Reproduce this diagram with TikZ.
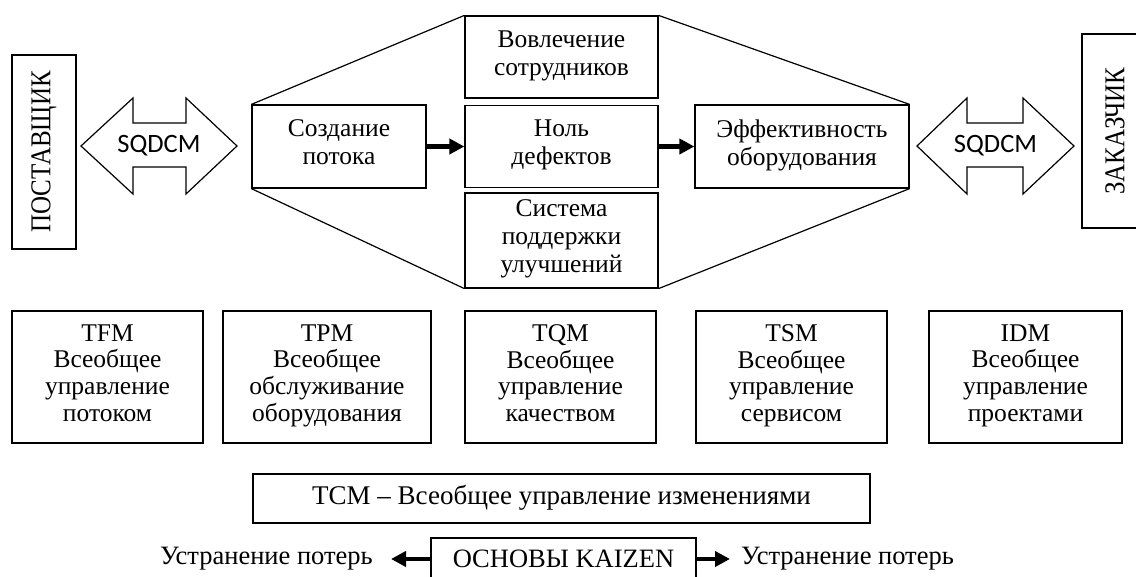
\documentclass[tikz,border=0pt]{standalone}
\usepackage{fontspec}
\usepackage{graphicx}
\setmainfont{Liberation Serif}
\newfontfamily\vtfont{Liberation Serif}
\newfontfamily\sqfont{Carlito}
\usetikzlibrary{arrows.meta}
\tikzset{
  box/.style={draw, line width=1.2pt, inner sep=0pt, align=center,
    font=\fontsize{25.5}{28}\selectfont,
    execute at begin node=\strut, execute at end node=\strut},
  lowbox/.style={box, minimum height=132pt, font=\fontsize{25.5}{26.7}\selectfont},
  thickarrow/.style={line width=4.5pt, -{Triangle[length=15pt,width=15pt]}},
  blockarrow/.style={draw, line width=1.2pt, line join=miter},
  sqlabel/.style={font=\sqfont\fontsize{26.5}{28}\selectfont, inner sep=0pt},
  plain/.style={inner sep=0pt, font=\fontsize{26.5}{27}\selectfont}
}
\begin{document}
\begin{tikzpicture}[x=1pt,y=-1pt]
\useasboundingbox (0,0) rectangle (1136,577);
% side boxes
\node[draw, line width=1.2pt, inner sep=0pt, minimum width=64pt, minimum height=194pt] (post) at (44,152)
  {\rotatebox{90}{\vtfont\fontsize{25}{27}\selectfont\scalebox{1}[1.15]{ПОСТАВЩИК}}};
\node[draw, line width=1.2pt, inner sep=0pt, minimum width=66pt, minimum height=194pt] (zak) at (1115,131)
  {\rotatebox{90}{\vtfont\fontsize{25}{27}\selectfont\scalebox{1}[1.15]{ЗАКАЗЧИК}}};
% hexagon boxes
\node[box, minimum width=174pt, minimum height=83pt] (sozd) at (339,146.5) {Создание\\потока};
\node[box, minimum width=193pt, minimum height=82pt] (vov) at (561.5,57) {Вовлечение\\сотрудников};
\node[box, minimum width=193pt, minimum height=82pt] (nol) at (561.5,146.5) {Ноль\\дефектов};
\node[box, minimum width=193pt, minimum height=95pt] (sys) at (561.5,240.5) {Система\\поддержки\\улучшений};
\node[box, minimum width=214pt, minimum height=83pt] (eff) at (802,146.5) {Эффективность\\оборудования};
\draw[line width=1.2pt] (sozd.north west) -- (vov.north west);
\draw[line width=1.2pt] (vov.north east) -- (eff.north east);
\draw[line width=1.2pt] (sozd.south west) -- (sys.south west);
\draw[line width=1.2pt] (sys.south east) -- (eff.south east);
\draw[thickarrow] (sozd.east) -- (nol.west);
\draw[thickarrow] (nol.east) -- (eff.west);
% block double arrows
\node[sqlabel] (sq1) at (159,146) {SQDCM};
\node[sqlabel] (sq2) at (995.5,146) {SQDCM};
\draw[blockarrow] (81,146) -- (133,98) -- (133,123) -- (186,123) -- (186,98) -- (237,146)
  -- (186,194) -- (186,167) -- (133,167) -- (133,194) -- cycle;
\draw[blockarrow] (917,146) -- (967,98) -- (967,123) -- (1023,123) -- (1023,98) -- (1074,146)
  -- (1023,194) -- (1023,167) -- (967,167) -- (967,194) -- cycle;
% lower row
\node[lowbox, minimum width=191pt] (tfm) at (107.5,377) {TFM\\Всеобщее\\управление\\потоком};
\node[lowbox, minimum width=208pt] (tpm) at (327,377) {TPM\\Всеобщее\\обслуживание\\оборудования};
\node[lowbox, minimum width=191pt] (tqm) at (560.5,377) {TQM\\Всеобщее\\управление\\качеством};
\node[lowbox, minimum width=191pt] (tsm) at (791.5,377) {TSM\\Всеобщее\\управление\\сервисом};
\node[lowbox, minimum width=193pt] (idm) at (1025.5,377) {IDM\\Всеобщее\\управление\\проектами};
% TCM and Kaizen
\node[box, minimum width=617pt, minimum height=49pt, font=\fontsize{27}{28}\selectfont] (tcm) at (561.5,498.5) {TCM – Всеобщее управление изменениями};
\node[draw, line width=1.2pt, inner sep=0pt, minimum width=265pt, minimum height=42pt, font=\fontsize{26.5}{28}\selectfont] (kai) at (563.5,559) {ОСНОВЫ KAIZEN};
\node[plain, anchor=east] (lt) at (373,559) {Устранение потерь};
\node[plain, anchor=west] (rt) at (741,559) {Устранение потерь};
\draw[thickarrow, shorten >=18pt] (kai.west) -- (lt.east);
\draw[thickarrow, shorten >=11pt] (kai.east) -- (rt.west);
\end{tikzpicture}
\end{document}
